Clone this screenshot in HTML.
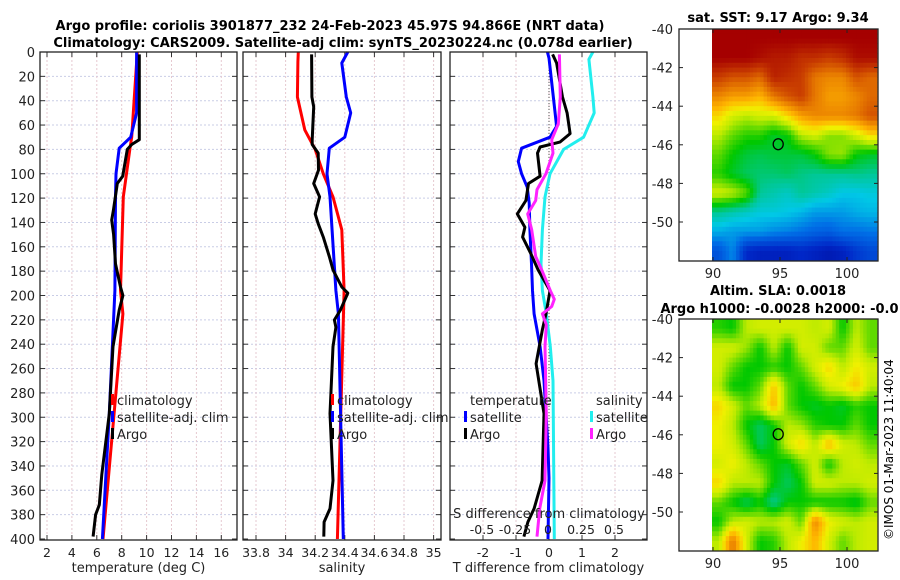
<!DOCTYPE html>
<html><head><meta charset="utf-8"><style>
body{margin:0;background:#fff;}
svg{display:block;font-family:"DejaVu Sans","Liberation Sans",sans-serif;}
</style></head><body>
<svg id="c" width="900" height="580" xmlns="http://www.w3.org/2000/svg">
<text x="330" y="30" font-size="13" font-weight="bold" text-anchor="middle">Argo profile: coriolis 3901877_232 24-Feb-2023 45.97S 94.866E (NRT data)</text>
<text x="343" y="47" font-size="13" font-weight="bold" text-anchor="middle">Climatology: CARS2009. Satellite-adj clim: synTS_20230224.nc (0.078d earlier)</text>
<text x="778" y="22" font-size="13" font-weight="bold" text-anchor="middle">sat. SST: 9.17 Argo: 9.34</text>
<text x="778" y="295" font-size="13" font-weight="bold" text-anchor="middle">Altim. SLA: 0.0018</text>
<text x="784" y="313" font-size="13" font-weight="bold" text-anchor="middle">Argo h1000: -0.0028 h2000: -0.01</text>
<text transform="translate(893,540) rotate(-90)" font-size="12">©IMOS 01-Mar-2023 11:40:04</text>
<g id="plots"></g>
</svg>
<script>
// ---- depth profile data ----
const tClimD=[0,70,79,119,196,215,400];
const tClimV=[9.25,8.8,8.67,8.13,7.9,8.1,6.5];
const tSatD=[0,50,70,79,100,119,196,297,400];
const tSatV=[9.2,9.2,8.72,7.8,7.54,7.5,7.45,7.0,6.45];
const tArgoD=[2,72,76,80,102,108,130,138,150,174,193,200,212,242,297,347,372,380,398];
const tArgoV=[9.41,9.41,8.8,8.45,8.08,7.65,7.33,7.2,7.35,7.5,7.9,8.1,7.8,7.3,7.0,6.4,6.2,5.9,5.7];
const sClimD=[0,8,37,64,80,100,119,146,196,400];
const sClimV=[34.086,34.083,34.08,34.13,34.2,34.255,34.32,34.38,34.395,34.35];
const sSatD=[0,9,37,50,70,79,100,119,196,215,400];
const sSatV=[34.42,34.38,34.41,34.44,34.4,34.295,34.28,34.3,34.34,34.357,34.39];
const sArgoD=[2,37,45,72,76,83,97,108,119,133,141,152,168,179,193,198,212,220,226,242,297,352,375,386,398];
const sArgoV=[34.176,34.178,34.19,34.18,34.18,34.22,34.222,34.19,34.23,34.2,34.22,34.255,34.295,34.32,34.38,34.42,34.37,34.33,34.34,34.32,34.30,34.32,34.30,34.26,34.258];
const dTsatD=[0,5,61,70,79,90,100,111,124,146,174,196,215,242,270,325,350,400];
const dTsatV=[-0.05,0,0.23,0.03,-0.83,-0.93,-0.83,-0.66,-0.6,-0.58,-0.53,-0.5,-0.45,-0.27,-0.15,-0.03,0,-0.03];
const dTargoD=[2,9,37,50,67,74,78,83,102,108,122,133,144,152,165,179,196,215,228,256,297,352,375,386,398];
const dTargoV=[0.11,0.23,0.41,0.55,0.64,0.33,-0.27,-0.35,-0.27,-0.62,-0.7,-0.96,-0.73,-0.8,-0.56,-0.33,0.03,-0.09,-0.2,-0.39,-0.15,-0.21,-0.45,-0.64,-0.76];
const dSargoD=[2,37,59,72,83,100,113,122,133,146,168,179,196,203,209,215,224,242,297,352,375,398];
const dSargoV=[0.078,0.085,0.07,0.02,0.03,-0.023,-0.09,-0.1,-0.16,-0.13,-0.1,-0.055,0.01,0.04,0.02,-0.05,-0.02,-0.03,-0.02,-0.03,-0.07,-0.09];
const dSsatD=[0,6,37,50,70,80,100,119,146,174,196,215,242,270,400];
const dSsatV=[0.33,0.3,0.33,0.34,0.26,0.11,0.0075,-0.03,-0.05,-0.06,-0.05,-0.02,0.01,0.03,0.04];
// ---- map grids (normalised colour values, rows north->south) ----
const sstGrid=[
[.97,.97,.97,.97,.97,.97,.97,.97,.97,.97,.97,.97],
[.97,.97,.97,.95,.93,.93,.9,.9,.88,.9,.95,.95],
[.88,.85,.85,.82,.92,.9,.88,.8,.78,.78,.85,.82],
[.78,.75,.75,.72,.8,.85,.88,.8,.75,.75,.78,.82],
[.68,.62,.6,.62,.62,.68,.75,.78,.78,.78,.8,.85],
[.6,.55,.52,.52,.48,.5,.6,.62,.57,.57,.62,.68],
[.55,.5,.47,.46,.47,.47,.47,.5,.57,.58,.5,.48],
[.52,.48,.45,.44,.44,.45,.43,.42,.42,.42,.43,.42],
[.62,.6,.55,.42,.4,.38,.42,.4,.38,.35,.35,.36],
[.42,.4,.38,.36,.36,.35,.33,.3,.3,.3,.32,.33],
[.32,.3,.3,.3,.28,.27,.25,.23,.22,.25,.25,.26],
[.2,.28,.12,.1,.1,.1,.12,.1,.08,.1,.15,.18]];
const slaGrid=[
[.52,.5,.6,.62,.62,.62,.62,.6,.62,.5,.6,.55],
[.62,.62,.58,.5,.6,.5,.62,.62,.55,.55,.62,.55],
[.62,.55,.5,.5,.52,.5,.55,.62,.68,.6,.66,.62],
[.6,.5,.5,.55,.7,.55,.5,.55,.62,.65,.7,.6],
[.68,.62,.55,.6,.72,.55,.5,.48,.5,.48,.52,.5],
[.65,.6,.5,.45,.5,.6,.58,.52,.5,.5,.55,.5],
[.65,.62,.55,.45,.5,.62,.68,.6,.72,.62,.6,.55],
[.62,.65,.6,.55,.5,.48,.55,.62,.5,.6,.62,.6],
[.68,.6,.6,.6,.5,.45,.5,.62,.62,.6,.6,.62],
[.55,.5,.45,.5,.42,.5,.5,.5,.5,.5,.48,.55],
[.5,.6,.62,.6,.6,.62,.55,.78,.65,.62,.6,.62],
[.6,.8,.62,.5,.52,.6,.65,.72,.62,.55,.6,.62]];
const depthTicks=[0,20,40,60,80,100,120,140,160,180,200,220,240,260,280,300,320,340,360,380,400];
const tTicks=[2,4,6,8,10,12,14,16];
const sTicks=[33.8,34,34.2,34.4,34.6,34.8,35];
const dTTicks=[-2,-1,0,1,2];
const dSTicks=[-0.5,-0.25,0,0.25,0.5];
const latTicks=[-40,-42,-44,-46,-48,-50];
const lonTicks=[90,95,100];

const NS='http://www.w3.org/2000/svg';
const root=document.getElementById('plots');
function mk(tag,at,par){const e=document.createElementNS(NS,tag);for(const k in at)e.setAttribute(k,at[k]);(par||root).appendChild(e);return e;}
const Y0=52,YS=1.2175;
const yD=d=>Y0+d*YS;
const panels=[
 {x0:40,x1:237,fx:v=>47+(v-2)*12.45,ticks:tTicks,label:'temperature (deg C)',name:'temperature-panel'},
 {x0:243,x1:441,fx:v=>256+(v-33.8)*148,ticks:sTicks,label:'salinity',name:'salinity-panel'},
 {x0:450,x1:647,fx:v=>549+v*33,ticks:dTTicks,label:'T difference from climatology',name:'difference-panel'}];
const fS=v=>549+v*133;
const fSlab=v=>548+v*132;
panels.forEach((p,i)=>{
 const g=mk('g',{});
 
 
 depthTicks.forEach(d=>{if(d>0&&d<400){const l=mk('line',{x1:p.x0,x2:p.x1,y1:yD(d),y2:yD(d),stroke:'#c9cde6','stroke-width':1,'stroke-dasharray':'2,2'},g);}
  mk('line',{x1:p.x0,x2:p.x0+5,y1:yD(d),y2:yD(d),stroke:'#333'},g);mk('line',{x1:p.x1-5,x2:p.x1,y1:yD(d),y2:yD(d),stroke:'#333'},g);
  if(i==0){const t=mk('text',{x:35,y:yD(d)+5,'font-size':13,'text-anchor':'end',fill:'#222'},g);t.textContent=d;}});
 p.ticks.forEach(v=>{const x=p.fx(v);
  mk('line',{x1:x,x2:x,y1:Y0,y2:540,stroke:'#e6c9d0','stroke-width':1,'stroke-dasharray':'2,2'},g);
  mk('line',{x1:x,x2:x,y1:535,y2:540,stroke:'#333'},g);mk('line',{x1:x,x2:x,y1:Y0,y2:Y0+5,stroke:'#333'},g);
  const t=mk('text',{x:x,y:557,'font-size':12.5,'text-anchor':'middle',fill:'#222'},g);t.textContent=v;
  });
 const t=mk('text',{x:(p.x0+p.x1)/2,y:572,'font-size':13,'text-anchor':'middle',fill:'#222'},g);t.textContent=p.label;
 
});
function line(D,V,f,col,name,w){const pts=D.map((d,k)=>f(V[k]).toFixed(1)+','+yD(d).toFixed(1)).join(' ');
 const e=mk('polyline',{points:pts,fill:'none',stroke:col,'stroke-width':w||3,'stroke-linejoin':'round'});
 }
mk('line',{x1:549,x2:549,y1:Y0,y2:540,stroke:'#555','stroke-dasharray':'1,2'});
const P=panels;
line(tClimD,tClimV,P[0].fx,'#ff0000','temp-climatology-line');
line(tSatD,tSatV,P[0].fx,'#0000ff','temp-satellite-line');
line(tArgoD,tArgoV,P[0].fx,'#000','temp-argo-line');
line(sClimD,sClimV,P[1].fx,'#ff0000','sal-climatology-line');
line(sSatD,sSatV,P[1].fx,'#0000ff','sal-satellite-line');
line(sArgoD,sArgoV,P[1].fx,'#000','sal-argo-line');
line(dSsatD,dSsatV,fS,'#22eeee','s-diff-satellite-line');
line(dTsatD,dTsatV,P[2].fx,'#0000ff','t-diff-satellite-line');
line(dTargoD,dTargoV,P[2].fx,'#000','t-diff-argo-line');
line(dSargoD,dSargoV,fS,'#ff22ff','s-diff-argo-line');
panels.forEach(p=>{const r=mk('rect',{x:p.x0,y:Y0,width:p.x1-p.x0,height:540-Y0,fill:'none',stroke:'#222','stroke-width':1.3});});
{const t=mk('text',{x:549,y:518,'font-size':13,'text-anchor':'middle',fill:'#222'});t.textContent='S difference from climatology';
 dSTicks.forEach(v=>{const e=mk('text',{x:fSlab(v),y:534,'font-size':12.5,'text-anchor':'middle',fill:'#222'});e.textContent=v;});}
function leg(x,y,col,txt,name){if(col){mk('rect',{x:x-6,y:y-11,width:3,height:11,fill:col});}
 const t=mk('text',{x:x,y:y,'font-size':13,fill:'#222'});t.textContent=txt;}
leg(117,405,'#f00','climatology','legend-climatology');
leg(117,422,'#00f','satellite-adj. clim','legend-satellite');
leg(117,439,'#000','Argo','legend-argo');
leg(337,405,'#f00','climatology','legend-climatology-2');
leg(337,422,'#00f','satellite-adj. clim','legend-satellite-2');
leg(337,439,'#000','Argo','legend-argo-2');
leg(470,405,null,'temperature','legend-temperature-heading');
leg(470,422,'#00f','satellite','legend-t-satellite');
leg(470,439,'#000','Argo','legend-t-argo');
leg(596,405,null,'salinity','legend-salinity-heading');
leg(596,422,'#2ee','satellite','legend-s-satellite');
leg(596,439,'#f2f','Argo','legend-s-argo');
const stops=[[0,[0,0,140]],[.12,[0,40,200]],[.25,[0,110,230]],[.35,[0,200,230]],[.42,[0,200,150]],[.5,[0,200,0]],[.6,[190,235,0]],[.65,[240,240,0]],[.72,[255,180,0]],[.8,[230,120,0]],[.88,[200,60,0]],[.97,[165,0,0]],[1,[160,0,0]]];
function cmap(v){for(let i=1;i<stops.length;i++){if(v<=stops[i][0]){const a=stops[i-1],b=stops[i],t=(v-a[0])/(b[0]-a[0]);return 'rgb('+a[1].map((c,k)=>Math.round(c+(b[1][k]-c)*t)).join(',')+')';}}return 'rgb(160,0,0)';}
function sample(grid,r,c){const R=grid.length,C=grid[0].length;
 r=Math.max(0,Math.min(R-1,r));c=Math.max(0,Math.min(C-1,c));
 const r0=Math.floor(r),c0=Math.floor(c),r1=Math.min(R-1,r0+1),c1=Math.min(C-1,c0+1),fr=r-r0,fc=c-c0;
 return grid[r0][c0]*(1-fr)*(1-fc)+grid[r0][c1]*(1-fr)*fc+grid[r1][c0]*fr*(1-fc)+grid[r1][c1]*fr*fc;}
function map(top,grid,name){
 const fx=lon=>713+(lon-90)*13.4, fy=lat=>top+(-40-lat)*19.3;
 const g=mk('g',{});
 const N=48,R=grid.length,C=grid[0].length;
 const cw=(877-712)/N, ch=(R*19.3)/N;
 for(let i=0;i<N;i++)for(let j=0;j<N;j++){
  const v=sample(grid,(i+0.5)/N*R-0.5,(j+0.5)/N*C-0.5);
  const e=mk('rect',{x:(712+j*cw).toFixed(2),y:(top+i*ch).toFixed(2),width:(cw+0.4).toFixed(2),height:(ch+0.4).toFixed(2),fill:cmap(v)},g);
  
  }
 const bottom=top+232;
 mk('rect',{x:679,y:top,width:199,height:232,fill:'none',stroke:'#222','stroke-width':1.3},g);
 latTicks.forEach(l=>{const y=fy(l);mk('line',{x1:679,x2:683,y1:y,y2:y,stroke:'#222'},g);mk('line',{x1:874,x2:878,y1:y,y2:y,stroke:'#222'},g);
  const t=mk('text',{x:673,y:y+5,'font-size':13,'text-anchor':'end',fill:'#222'},g);t.textContent=l;});
 lonTicks.forEach(l=>{const x=fx(l);mk('line',{x1:x,x2:x,y1:bottom-4,y2:bottom,stroke:'#222'},g);mk('line',{x1:x,x2:x,y1:top,y2:top+4,stroke:'#222'},g);
  const t=mk('text',{x:x,y:bottom+17,'font-size':13,'text-anchor':'middle',fill:'#222'},g);t.textContent=l;});
 const c=mk('ellipse',{cx:fx(94.866),cy:fy(-45.97),rx:5,ry:5.5,fill:'none',stroke:'#000','stroke-width':1.3},g);
 
}
map(29,sstGrid,'sst-map');
map(319,slaGrid,'sla-map');
</script>
</body></html>
